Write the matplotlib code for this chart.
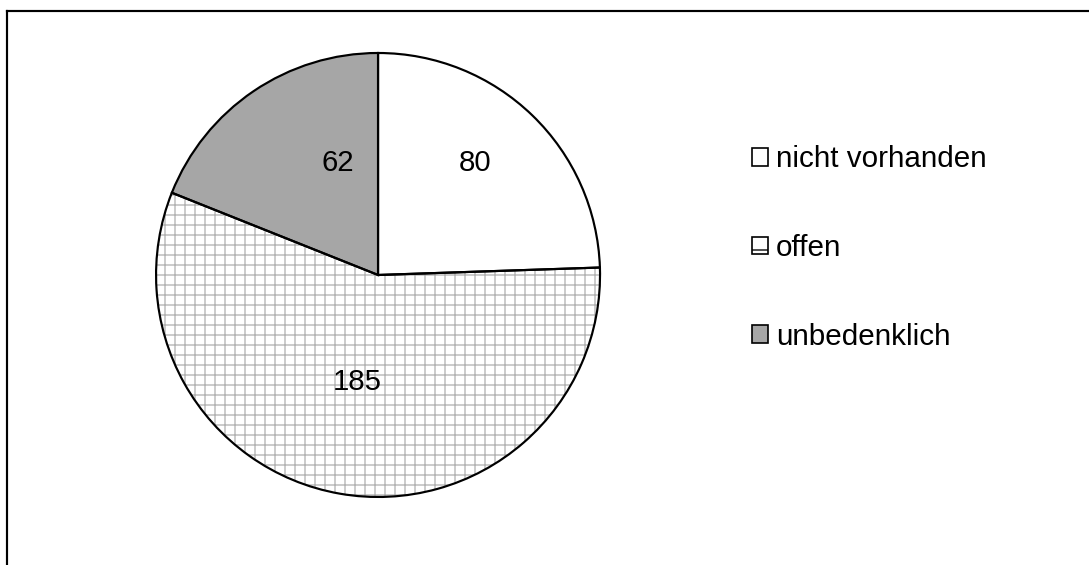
import matplotlib
matplotlib.use("Agg")
import matplotlib.pyplot as plt
from matplotlib.lines import Line2D

plt.rcParams['font.family'] = ['Liberation Sans', 'DejaVu Sans']
plt.rcParams['hatch.linewidth'] = 0.8

# Daten
kategorien = ['nicht vorhanden', 'offen', 'unbedenklich']
werte = [80, 185, 62]
farben = ['white', 'white', '#a6a6a6']
muster = ['', '++', '']
# Positionen der Zahlen im Kreis (Einheitskreis)
label_pos = [(0.437, 0.505), (-0.095, -0.482), (-0.18, 0.505)]

# dpi 120, damit das Gittermuster ca. 10 px Abstand hat
DPI = 120
fig = plt.figure(figsize=(1089 / DPI, 565 / DPI), dpi=DPI)

# Rahmen oben und links
fig.add_artist(Line2D([7 / 1089, 7 / 1089], [0, 1 - 11 / 565], color='black', lw=1.3))
fig.add_artist(Line2D([7 / 1089, 1], [1 - 11 / 565, 1 - 11 / 565], color='black', lw=1.3))

ax = fig.add_axes([0.1433, 0.1204, 0.4077, 0.7858])
# Flaechen mit Muster (graue Musterlinien)
flaechen, _ = ax.pie(werte, colors=farben, startangle=90, counterclock=False,
                     hatch=muster, wedgeprops=dict(edgecolor='#b4b4b4', linewidth=0))
# schwarze Umrisse darueber
ax.pie(werte, colors=['none'] * 3, startangle=90, counterclock=False,
       wedgeprops=dict(edgecolor='black', linewidth=1.3))

for (x, y), v in zip(label_pos, werte):
    ax.text(x, y, str(v), ha='center', va='center', fontsize=17.6)

ax.set_xlim(-1, 1)
ax.set_ylim(-1, 1)
ax.set_aspect('equal')

leg = fig.legend(flaechen, kategorien, loc='center left',
                 bbox_to_anchor=(752 / 1089, 1 - 248 / 565),
                 frameon=False, fontsize=17.8, handlelength=0.55, handleheight=0.55,
                 handletextpad=0.25, labelspacing=2.05, borderpad=0, borderaxespad=0)
for p in leg.get_patches():
    p.set_linewidth(1.0)
    p.set_edgecolor('black')
leg.get_patches()[1].set_hatch('+')

fig.savefig('out.png', dpi=DPI, facecolor='white')
